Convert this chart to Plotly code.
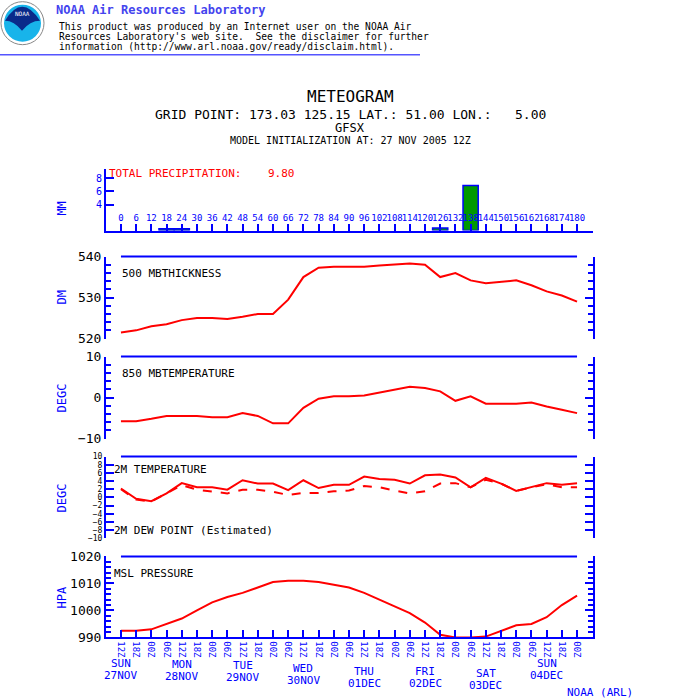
import plotly.graph_objects as go

hours = list(range(0, 181, 6))
hour_labels = [str(h) for h in hours]
utc_labels = ["12Z", "18Z", "00Z", "06Z"] * 8
utc_labels = utc_labels[:len(hours)]

precip_hours = [18, 24, 126, 138]
precip_mm = [0.3, 0.3, 0.4, 6.9]

thickness = [521.5, 522, 523, 523.5, 524.5, 525, 525, 524.8, 525.3, 526, 526, 529.5, 535, 537.3, 537.5,
             537.5, 537.5, 537.8, 538, 538.3, 538, 535, 536, 534.2, 533.5, 533.8, 534.2, 533, 531.5, 530.5, 529]
t850 = [-5.8, -5.8, -5.2, -4.5, -4.5, -4.5, -4.8, -4.8, -3.8, -4.5, -6.3, -6.3, -2.5, -0.3, 0.3,
        0.3, 0.5, 1.2, 2.0, 2.6, 2.3, 1.5, -0.8, 0.3, -1.5, -1.5, -1.5, -1.2, -2.2, -3.0, -3.8]
t2m = [2.2, -0.3, -0.9, 1.0, 3.5, 2.5, 2.5, 1.9, 4.2, 3.4, 3.4, 1.8, 4.2, 2.3, 3.1,
       3.1, 5.1, 4.5, 4.3, 3.4, 5.4, 5.6, 4.9, 2.5, 4.8, 3.4, 1.6, 2.5, 3.5, 3.1, 3.5]
td2m = [2.0, -0.5, -1.0, 1.0, 3.0, 1.9, 1.4, 1.0, 1.9, 1.9, 1.4, 0.6, 1.1, 1.1, 1.5,
        1.7, 2.8, 2.5, 1.7, 1.0, 1.5, 3.4, 3.5, 2.5, 4.3, 3.4, 1.6, 2.5, 3.2, 2.5, 2.5]
mslp = [992.5, 992.5, 993, 995, 997, 1000, 1003, 1005, 1006.5, 1008.5, 1010.5, 1011, 1011, 1010.5, 1009.5,
        1008.5, 1006.5, 1004, 1001.5, 999, 995.5, 991, 990, 990, 990.3, 992.5, 994.5, 995, 997.5, 1002, 1005.5]

day_hours = [0, 24, 48, 72, 96, 120, 144, 168]
day_names = ["SUN", "MON", "TUE", "WED", "THU", "FRI", "SAT", "SUN"]
day_dates = ["27NOV", "28NOV", "29NOV", "30NOV", "01DEC", "02DEC", "03DEC", "04DEC"]

BLUE = "#0000ff"
RED = "#ff0000"
MONO = "DejaVu Sans Mono"
W = H = 700

def py(p):
    q = (p - 6.3) / 0.979
    return 1 - q / H

def px(p):
    return p / W

XR = [-5.9, 186.3]
XD = [px(106), px(593)]

fig = go.Figure()

fig.add_trace(go.Bar(x=precip_hours, y=precip_mm, width=6, xaxis="x2", yaxis="y",
                     marker=dict(color="#009900", line=dict(color=BLUE, width=1.5))))
fig.add_trace(go.Scatter(x=hours, y=thickness, xaxis="x", yaxis="y2", mode="lines",
                         line=dict(color=RED, width=2)))
fig.add_trace(go.Scatter(x=hours, y=t850, xaxis="x", yaxis="y3", mode="lines",
                         line=dict(color=RED, width=2)))
fig.add_trace(go.Scatter(x=hours, y=t2m, xaxis="x", yaxis="y4", mode="lines",
                         line=dict(color=RED, width=2)))
fig.add_trace(go.Scatter(x=hours, y=td2m, xaxis="x", yaxis="y4", mode="lines",
                         line=dict(color=RED, width=2, dash="dash")))
fig.add_trace(go.Scatter(x=hours, y=mslp, xaxis="x", yaxis="y5", mode="lines",
                         line=dict(color=RED, width=2)))

lay = dict(width=W, height=H, autosize=False, margin=dict(l=0, r=0, t=0, b=0),
           paper_bgcolor="white", plot_bgcolor="white", showlegend=False,
           font=dict(family=MONO, color="black", size=12))

def yax(name, top, bot, rng, dtick, minor, tickcolor="black", mirror="ticks"):
    key = "yaxis" if name == "y" else "yaxis" + name[1:]
    lay[key] = dict(domain=[py(bot), py(top)], range=rng, anchor="x",
                    showgrid=False, zeroline=False,
                    showline=True, linecolor=BLUE, linewidth=2, mirror=mirror,
                    ticks="inside", ticklen=8, tickcolor=BLUE, tickwidth=2, dtick=dtick,
                    tickfont=dict(family=MONO, size=13, color=tickcolor),
                    minor=dict(dtick=minor, ticks="inside", ticklen=5, tickcolor=BLUE, tickwidth=2),
                    fixedrange=True)

yax("y", 168, 230, [0, 9.5], 2, 2, BLUE, mirror=False)
lay["yaxis"]["tickvals"] = [2, 4, 6, 8]
lay["yaxis"]["tickfont"]["size"] = 10
yax("y2", 256, 338, [520, 540], 10, 2)
yax("y3", 356, 438, [-10, 10], 10, 2)
yax("y4", 456, 538, [-10, 10], 2, 2)
lay["yaxis4"]["tickfont"]["size"] = 8
yax("y5", 556, 637, [990, 1020], 10, 2)

def xax(key, anchor, pos=None, labels=None, labelpos="outside", angle=0, size=10):
    d = dict(domain=XD, range=XR, showgrid=False, zeroline=False, showline=True,
             linecolor=BLUE, linewidth=2, tickvals=hours, ticks="inside", ticklen=7,
             tickcolor=BLUE, tickwidth=2, fixedrange=True,
             tickfont=dict(family=MONO, size=size, color=BLUE))
    if pos is not None:
        d["anchor"] = "free"
        d["position"] = pos
        d["overlaying"] = "x"
    else:
        d["anchor"] = anchor
    if labels is None:
        d["showticklabels"] = False
    else:
        d["ticktext"] = labels
        d["ticklabelposition"] = labelpos
        d["tickangle"] = angle
    lay[key] = d

xax("xaxis", "y5", labels=utc_labels, angle=90, size=9)
xax("xaxis2", "y", labels=hour_labels, labelpos="inside", size=9)
lay["xaxis2"]["overlaying"] = "x"
xax("xaxis3", None, pos=py(338))
xax("xaxis4", None, pos=py(397))
xax("xaxis5", None, pos=py(497))
fig.update_layout(**lay)

shapes = []
for top in [256, 356, 456, 556]:
    shapes.append(dict(type="line", xref="x", yref="paper", x0=hours[0], x1=hours[-1],
                       y0=py(top), y1=py(top), line=dict(color=BLUE, width=2)))
shapes.append(dict(type="line", xref="paper", yref="paper", x0=0, x1=px(420),
                   y0=py(54), y1=py(54), line=dict(color="#5555ff", width=1.5)))
shapes.append(dict(type="circle", xref="paper", yref="paper", x0=px(1), x1=px(44),
                   y0=py(44), y1=py(1), fillcolor="white", line=dict(color="#888", width=1)))
shapes.append(dict(type="circle", xref="paper", yref="paper", x0=px(4), x1=px(41),
                   y0=py(41), y1=py(4), fillcolor="#18b4ea", line=dict(width=0)))
shapes.append(dict(type="path", xref="paper", yref="paper",
                   path=f"M {px(5)},{py(20)} Q {px(22)},{py(-8)} {px(40)},{py(20)} Q {px(30)},{py(20)} {px(22)},{py(30)} Q {px(14)},{py(20)} {px(5)},{py(20)} Z",
                   fillcolor="#0a2a8a", line=dict(width=0)))
fig.update_layout(shapes=shapes)

ann = []
def t(x, y, s, size=12, color="black", xa="left", ang=0, ya="middle"):
    ann.append(dict(x=px(x), y=py(y), xref="paper", yref="paper", text=s, showarrow=False,
                    xanchor=xa, yanchor=ya, textangle=ang,
                    font=dict(family=MONO, size=size, color=color)))

t(22, 13, "NOAA", 6, "white", "center")
t(54, 9, "<b>NOAA Air Resources Laboratory</b>", 12, "#4444ee")
t(57, 26, "This product was produced by an Internet user on the NOAA Air", 9.6)
t(57, 36, "Resources Laboratory's web site.  See the disclaimer for further", 9.6)
t(57, 46, "information (http://www.arl.noaa.gov/ready/disclaim.html).", 9.6)
t(350, 96, "METEOGRAM", 16, "black", "center")
t(350, 114, "GRID POINT: 173.03 125.15 LAT.: 51.00 LON.:   5.00", 13, "black", "center")
t(350, 127, "GFSX", 12, "black", "center")
t(350, 140, "MODEL INITIALIZATION AT: 27 NOV 2005 12Z", 10, "black", "center")
t(107, 173, "TOTAL PRECIPITATION:    9.80", 11, RED)
t(120, 273, "500 MBTHICKNESS", 11)
t(120, 373, "850 MBTEMPERATURE", 11)
t(112, 469, "2M TEMPERATURE", 11)
t(112, 530, "2M DEW POINT (Estimated)", 11)
t(112, 573, "MSL PRESSURE", 11)
t(62, 208, "MM", 12, BLUE, "center", -90)
t(62, 297, "DM", 12, BLUE, "center", -90)
t(62, 397, "DEGC", 12, BLUE, "center", -90)
t(62, 497, "DEGC", 12, BLUE, "center", -90)
t(62, 597, "HPA", 12, BLUE, "center", -90)
t(600, 692, "NOAA (ARL)", 11, BLUE, "center")
date_y = [684, 685, 686, 689, 692, 692, 694, 684]
for h, n, d, yy in zip(day_hours, day_names, day_dates, date_y):
    ann.append(dict(x=h, y=py(yy - 12), xref="x", yref="paper", text=n, showarrow=False,
                    xanchor="center", font=dict(family=MONO, size=11, color=BLUE)))
    ann.append(dict(x=h, y=py(yy), xref="x", yref="paper", text=d, showarrow=False,
                    xanchor="center", font=dict(family=MONO, size=11, color=BLUE)))
fig.update_layout(annotations=ann)

fig.write_html("out.html", config={"displayModeBar": False},
               post_script="document.body.style.margin='0';document.body.style.padding='0';document.body.style.overflow='hidden';document.documentElement.style.overflow='hidden';")
